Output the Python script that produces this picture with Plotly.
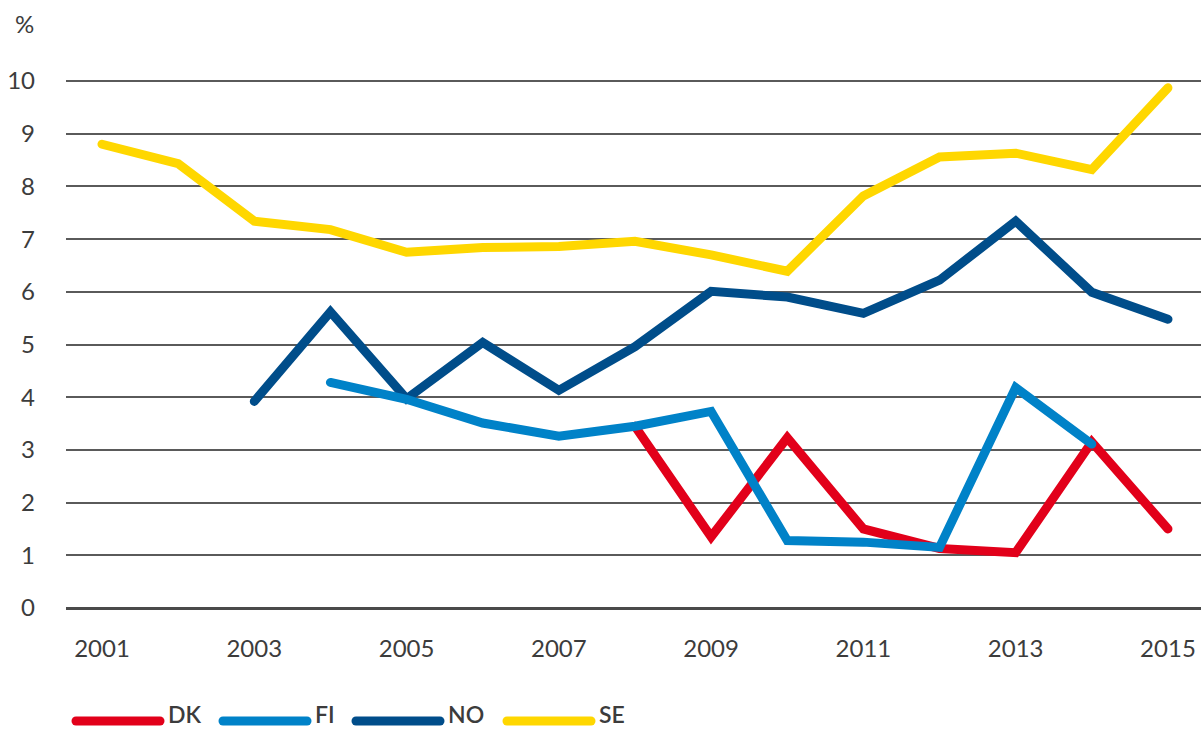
import plotly.graph_objects as go

years = list(range(2001, 2016))
series_names = ["DK", "FI", "NO", "SE"]
colors = {"DK": "#E2001A", "FI": "#0082C8", "NO": "#004D8A", "SE": "#FFD700"}

dk = [None, None, None, None, None, None, None, 3.45, 1.35, 3.23, 1.50, 1.13, 1.05, 3.15, 1.50]
fi = [None, None, None, 4.28, 3.96, 3.51, 3.26, 3.45, 3.73, 1.28, 1.25, 1.15, 4.18, 3.11, None]
no = [None, None, 3.92, 5.62, 3.97, 5.04, 4.13, 4.96, 6.01, 5.90, 5.59, 6.22, 7.34, 5.99, 5.48]
se = [8.80, 8.43, 7.34, 7.18, 6.75, 6.84, 6.86, 6.96, 6.70, 6.39, 7.82, 8.56, 8.63, 8.32, 9.87]

values = {"DK": dk, "FI": fi, "NO": no, "SE": se}
draw_order = ["DK", "NO", "FI", "SE"]

y_ticks = list(range(0, 11))
x_ticks = [2001, 2003, 2005, 2007, 2009, 2011, 2013, 2015]

FONT = "Lato"
TXT = "#3c3c3c"

W, H = 1201, 731
ML, MR, MT, MB = 66, 0, 70, 123
PW, PH = W - ML - MR, H - MT - MB

fig = go.Figure()
for name in draw_order:
    fig.add_trace(go.Scatter(
        x=years, y=values[name], mode="lines", name=name,
        line=dict(color=colors[name], width=9),
        connectgaps=False, showlegend=False, cliponaxis=False,
    ))

# custom legend (long line swatches)
def px_to_paper_x(px):
    return (px - ML) / PW

def py_to_paper_y(py):
    return (H - MB - py) / PH

legend_y = py_to_paper_y(721)
sw_len = 84
start = 76
text_widths = {"DK": 34, "FI": 20, "NO": 38, "SE": 30}
x = start
shapes = []
annotations = []
for name in series_names:
    shapes.append(dict(type="line", xref="paper", yref="paper",
                       x0=px_to_paper_x(x), x1=px_to_paper_x(x + sw_len),
                       y0=legend_y, y1=legend_y,
                       line=dict(color=colors[name], width=9), layer="above"))
    annotations.append(dict(text=name, xref="paper", yref="paper",
                            x=px_to_paper_x(x + sw_len + 6), y=py_to_paper_y(730),
                            xanchor="left", yanchor="bottom", showarrow=False,
                            font=dict(family=FONT, size=23, color=TXT, weight=600)))
    x = x + sw_len + 8 + text_widths[name] + 21

annotations.append(dict(text="%", xref="paper", yref="paper",
                        x=px_to_paper_x(36), y=py_to_paper_y(23),
                        xanchor="right", yanchor="middle", showarrow=False,
                        font=dict(family=FONT, size=24, color=TXT)))

fig.update_layout(
    width=W, height=H,
    margin=dict(l=ML, r=MR, t=MT, b=MB, pad=0),
    plot_bgcolor="white", paper_bgcolor="white",
    font=dict(family=FONT, size=24, color=TXT),
    shapes=shapes, annotations=annotations,
    showlegend=False,
)
fig.update_xaxes(
    range=[2000.527, 2015.434], tickvals=x_ticks, ticktext=[str(v) for v in x_ticks],
    showgrid=False, zeroline=False, showline=False, ticks="",
    ticklabelstandoff=24, tickfont=dict(family=FONT, size=24, color=TXT),
)
fig.update_yaxes(
    range=[0, PH / 52.7], tickvals=y_ticks, ticktext=[str(v) for v in y_ticks],
    showgrid=True, gridcolor="#5a5a5a", gridwidth=1.5,
    zeroline=True, zerolinecolor="#4a4a4a", zerolinewidth=3,
    showline=False, ticks="", ticklabelstandoff=30,
    tickfont=dict(family=FONT, size=24, color=TXT),
)

post = """
document.body.style.margin='0';
document.body.style.overflow='hidden';
var s=document.createElement('style');
s.innerHTML='.js-line, .shapelayer path {stroke-linecap: round !important;}';
document.head.appendChild(s);
"""
fig.write_html("out.html", post_script=post, config={"displayModeBar": False})
